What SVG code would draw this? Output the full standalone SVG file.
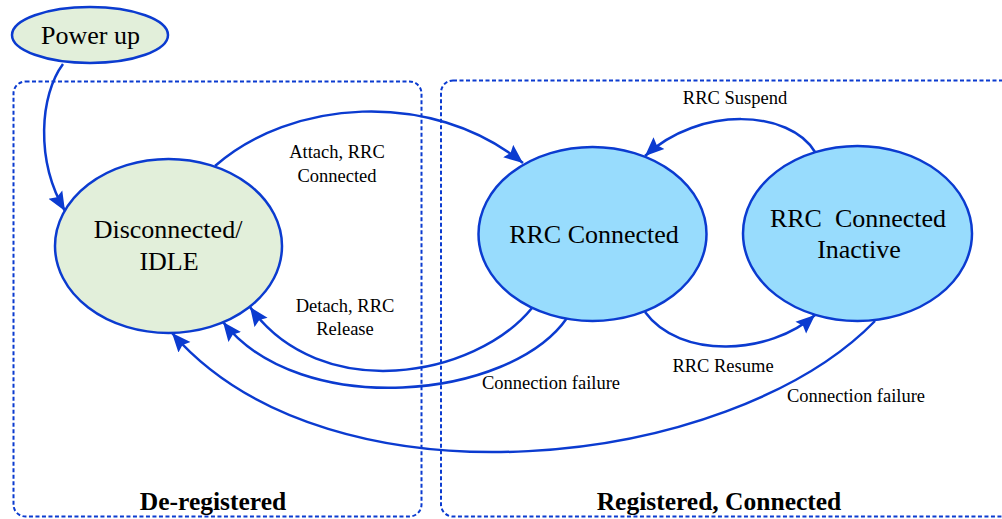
<svg xmlns="http://www.w3.org/2000/svg" width="1002" height="519" viewBox="0 0 1002 519" font-family="'Liberation Serif', 'Times New Roman', 'DejaVu Serif', serif">
  <style>
    .node-label { font-family: 'Liberation Serif', 'Times New Roman', serif; font-size: 26px; text-anchor: middle; fill: #000; }
    .edge-label { font-family: 'Liberation Serif', 'Times New Roman', serif; font-size: 18.5px; text-anchor: middle; fill: #000; }
    .group-label { font-family: 'Liberation Serif', 'Times New Roman', serif; font-size: 25.5px; font-weight: bold; text-anchor: middle; fill: #000; }
    .region { fill: none; stroke: #0B3BD0; stroke-width: 2; stroke-dasharray: 4 2.5; }
    .state { stroke: #0B3BD0; stroke-width: 2.5; }
    .idle { fill: #E2EFDA; }
    .active { fill: #98DCFD; }
    .edge { fill: none; stroke: #0B3BD0; stroke-width: 2.5; marker-end: url(#arrow); }
  </style>
  <defs>
    <marker id="arrow" markerUnits="userSpaceOnUse" markerWidth="20" markerHeight="18" viewBox="0 0 20 18" refX="19" refY="9" orient="auto">
      <path d="M0,1 L19,9 L0,17 L3,9 z" fill="#0B3BD0"/>
    </marker>
  </defs>

  <rect width="1002" height="519" fill="#FFFFFF"/>

  <!-- Registration regions -->
  <g id="region-deregistered">
    <rect class="region" x="13.5" y="81.5" width="408" height="435" rx="12"/>
    <text class="group-label" x="213" y="510">De-registered</text>
  </g>
  <g id="region-registered">
    <rect class="region" x="441" y="80.5" width="600" height="436" rx="12"/>
    <text class="group-label" x="719" y="510">Registered, Connected</text>
  </g>

  <!-- Transitions -->
  <g id="connectors">
    <path class="edge" d="M63,64 C40,95 35,160 65,211"/>
    <path class="edge" d="M215,166 C290,100 430,88 523,163"/>
    <path class="edge" d="M815,152 C790,110 700,105 645,156"/>
    <path class="edge" d="M645,312 C680,360 770,355 815,315"/>
    <path class="edge" d="M532,308 C475,378 320,405 250,307"/>
    <path class="edge" d="M567,318 C510,400 300,420 223,322"/>
    <path class="edge" d="M875,321 C730,470 330,515 172,333"/>
  </g>

  <!-- Transition labels -->
  <g id="edge-labels">
    <text class="edge-label" x="337" y="158">Attach, RRC</text>
    <text class="edge-label" x="337" y="182">Connected</text>
    <text class="edge-label" x="735" y="104">RRC Suspend</text>
    <text class="edge-label" x="345" y="312">Detach, RRC</text>
    <text class="edge-label" x="345" y="335">Release</text>
    <text class="edge-label" x="551" y="389">Connection failure</text>
    <text class="edge-label" x="723" y="372">RRC Resume</text>
    <text class="edge-label" x="856" y="402">Connection failure</text>
  </g>

  <!-- States -->
  <g id="node-power-up">
    <ellipse class="state idle" cx="90" cy="35" rx="78" ry="28"/>
    <text class="node-label" x="90.5" y="44">Power up</text>
  </g>
  <g id="node-idle">
    <ellipse class="state idle" cx="168.5" cy="246" rx="113.5" ry="87"/>
    <text class="node-label" x="168" y="238">Disconnected/</text>
    <text class="node-label" x="169" y="270">IDLE</text>
  </g>
  <g id="node-rrc-connected">
    <ellipse class="state active" cx="592.5" cy="234" rx="114" ry="87"/>
    <text class="node-label" x="594" y="243">RRC Connected</text>
  </g>
  <g id="node-rrc-inactive">
    <ellipse class="state active" cx="857.5" cy="233.5" rx="114.5" ry="87.5"/>
    <text class="node-label" x="858" y="227" xml:space="preserve">RRC  Connected</text>
    <text class="node-label" x="859" y="258">Inactive</text>
  </g>
</svg>
